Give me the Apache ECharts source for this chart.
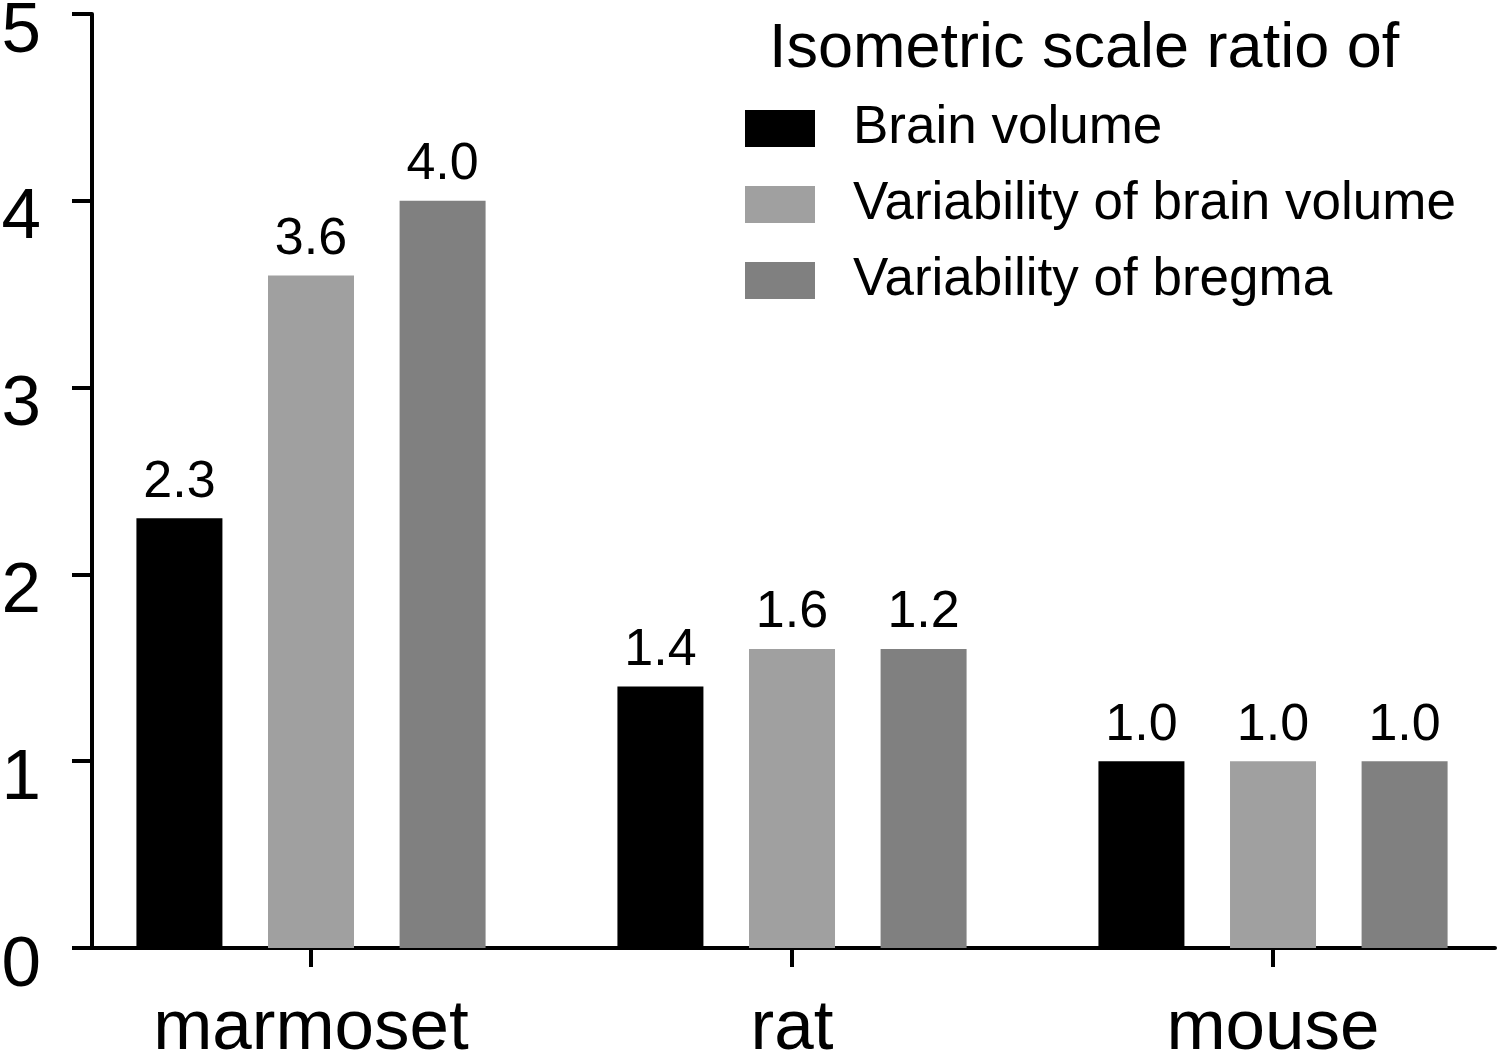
<!DOCTYPE html>
<html>
<head>
<meta charset="utf-8">
<script src="https://cdn.jsdelivr.net/npm/echarts@6/dist/echarts.min.js"></script>
<style>
  html, body { margin: 0; padding: 0; background: #fff; }
  #chart { width: 1500px; height: 1055px; }
</style>
</head>
<body>
<div id="chart"></div>
<script>
// 数据
const categories = ['marmoset', 'rat', 'mouse']
const seriesNames = ['Brain volume', 'Variability of brain volume', 'Variability of bregma']
const brainVolume = [2.3, 1.4, 1.0]
const varBrainVolume = [3.6, 1.6, 1.0]
const varBregma = [4.0, 1.6, 1.0]
// 柱子上的文字（原图 rat 的 bregma 柱高 1.6 但标注 1.2）
const brainVolumeLabels = ['2.3', '1.4', '1.0']
const varBrainVolumeLabels = ['3.6', '1.6', '1.0']
const varBregmaLabels = ['4.0', '1.2', '1.0']
const yTicks = [0, 1, 2, 3, 4, 5]

const colors = ['#000000', '#a0a0a0', '#808080']
const values = [brainVolume, varBrainVolume, varBregma]
const labels = [brainVolumeLabels, varBrainVolumeLabels, varBregmaLabels]
const catPos = categories.map((c, i) => i)

const font = 'Liberation Sans, Arial, sans-serif'
const myChart = echarts.init(document.getElementById('chart'))

const option = {
  animation: false,
  textStyle: { fontFamily: font },
  title: {
    text: 'Isometric scale ratio of',
    left: 769,
    top: 18,
    padding: 0,
    textStyle: { fontSize: 63, fontWeight: 'normal', color: '#000', fontFamily: font }
  },
  legend: {
    orient: 'vertical',
    left: 745,
    top: 102,
    padding: 0,
    icon: 'rect',
    itemWidth: 70,
    itemHeight: 37,
    itemGap: 23,
    selectedMode: false,
    data: seriesNames,
    textStyle: { fontSize: 53, color: '#000', padding: [0, 0, 0, 33], fontFamily: font }
  },
  grid: {
    top: 14,
    bottom: 107,
    left: 92,
    right: 5,
    containLabel: false,
    outerBoundsMode: 'none'
  },
  xAxis: {
    type: 'value',
    min: -0.4553,
    max: 2.4615,
    splitLine: { show: false },
    axisLine: { show: true, onZero: false, lineStyle: { color: '#000', width: 4 } },
    axisTick: {
      show: true,
      customValues: catPos,
      length: 19,
      lineStyle: { color: '#000', width: 4 }
    },
    axisLabel: {
      customValues: catPos,
      margin: 46,
      fontSize: 71,
      color: '#000',
      fontFamily: font,
      formatter: (v) => categories[Math.round(v)]
    }
  },
  yAxis: {
    type: 'value',
    min: 0,
    max: 5,
    interval: 1,
    splitLine: { show: false },
    axisLine: { show: true, onZero: false, lineStyle: { color: '#000', width: 4 } },
    axisTick: { show: true, length: 20, lineStyle: { color: '#000', width: 4 } },
    axisLabel: {
      margin: 51,
      fontSize: 71,
      color: '#000',
      fontFamily: font,
      verticalAlign: 'top',
      lineHeight: 36,
      formatter: (v) => (yTicks.includes(v) ? String(v) : '')
    }
  },
  series: seriesNames.map((name, s) => ({
    name,
    type: 'bar',
    barWidth: 86,
    barGap: '53%',
    itemStyle: { color: colors[s] },
    label: {
      show: true,
      position: 'top',
      distance: 10,
      fontSize: 52,
      color: '#000',
      fontFamily: font,
      formatter: (p) => labels[s][p.dataIndex]
    },
    data: values[s].map((v, i) => [catPos[i], v])
  }))
}

myChart.setOption(option)
</script>
</body>
</html>
